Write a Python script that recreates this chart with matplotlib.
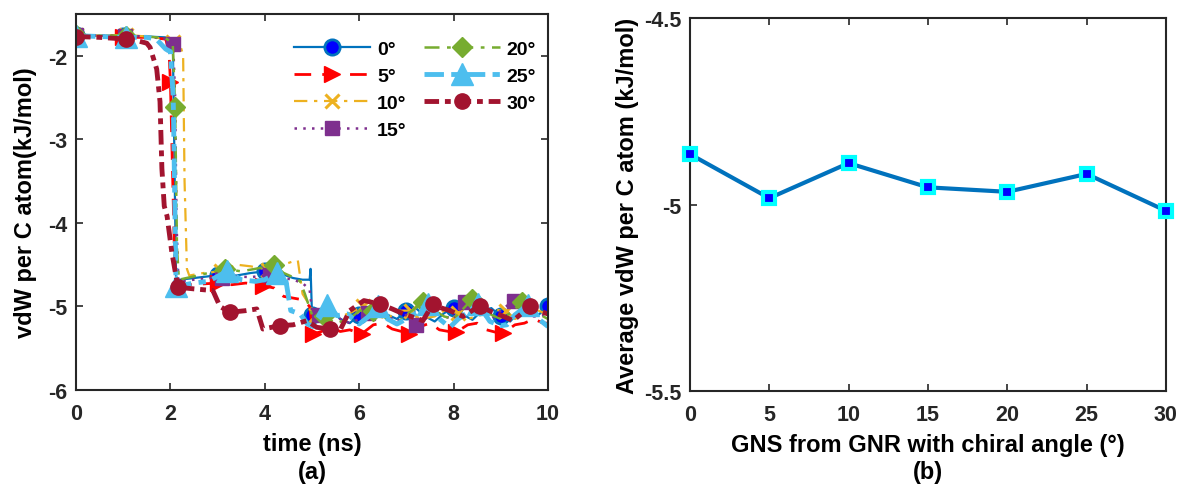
import matplotlib
matplotlib.use("Agg")
import matplotlib.pyplot as plt
import numpy as np

plt.rcParams['font.family'] = ['Liberation Sans', 'DejaVu Sans']
plt.rcParams['font.weight'] = 'bold'
plt.rcParams['axes.unicode_minus'] = False

# ---------------- data: panel (a) ----------------
t0 = [0, 0.5, 1.0, 1.5, 1.9, 2.0, 2.05, 2.08, 2.12, 2.2, 2.5, 2.8, 3.0, 3.4, 3.7, 4.0, 4.3, 4.6, 4.8, 4.95, 4.97,
      5.0, 5.2, 5.4, 5.6, 5.8, 6.0, 6.2, 6.4, 6.6, 6.8, 7.0, 7.2, 7.4, 7.6, 7.8, 8.0, 8.2, 8.4, 8.6, 8.8, 9.0,
      9.2, 9.4, 9.6, 9.8, 10.0]
v0 = [-1.75, -1.76, -1.76, -1.77, -1.78, -1.79, -1.80, -3.0, -4.68, -4.68, -4.66, -4.64, -4.62, -4.63, -4.60,
      -4.58, -4.60, -4.66, -4.68, -4.68, -4.55, -5.10, -5.12, -5.05, -5.15, -5.20, -5.10, -5.05, -5.00, -5.10,
      -5.15, -5.05, -5.02, -5.12, -5.18, -5.08, -5.02, -5.10, -5.16, -5.05, -5.02, -5.12, -5.18, -5.05, -5.02,
      -5.10, -5.00]
m0 = [0, 1.0, 3.0, 4.0, 5.0, 6.0, 7.0, 8.0, 9.0, 10.0]

t5 = [0, 0.5, 1.0, 1.5, 1.9, 1.97, 2.0, 2.05, 2.1, 2.15, 2.4, 2.7, 3.0, 3.3, 3.6, 3.96, 4.2, 4.4, 4.6, 4.8, 4.95,
      5.02, 5.2, 5.4, 5.6, 5.8, 6.05, 6.3, 6.5, 6.7, 6.9, 7.05, 7.3, 7.5, 7.7, 7.9, 8.05, 8.3, 8.5, 8.7, 8.9,
      9.05, 9.3, 9.5, 9.7, 9.9, 10.0]
v5 = [-1.76, -1.77, -1.78, -1.78, -1.80, -1.95, -2.31, -3.5, -4.70, -4.72, -4.74, -4.73, -4.72, -4.74, -4.72,
      -4.75, -4.78, -4.88, -4.90, -4.92, -5.00, -5.33, -5.30, -5.25, -5.30, -5.28, -5.33, -5.22, -5.20, -5.27,
      -5.30, -5.33, -5.24, -5.20, -5.28, -5.30, -5.31, -5.22, -5.20, -5.28, -5.31, -5.32, -5.22, -5.20, -5.15,
      -5.20, -5.20]
m5 = [0, 1.0, 2.0, 3.0, 3.96, 5.02, 6.05, 7.05, 8.05, 9.05]

t10 = [0, 0.5, 1.05, 1.5, 1.9, 2.06, 2.2, 2.27, 2.3, 2.35, 2.4, 2.7, 3.07, 3.4, 3.7, 4.07, 4.4, 4.6, 4.7, 4.75,
       4.8, 5.08, 5.3, 5.6, 5.8, 6.08, 6.3, 6.6, 6.8, 7.09, 7.3, 7.6, 7.8, 8.1, 8.3, 8.6, 8.8, 9.1, 9.3, 9.6,
       9.8, 10.0]
v10 = [-1.75, -1.76, -1.75, -1.77, -1.80, -1.83, -1.85, -2.0, -3.5, -4.55, -4.63, -4.60, -4.58, -4.50, -4.52,
       -4.56, -4.50, -4.46, -4.45, -4.65, -4.85, -5.10, -5.05, -5.12, -5.08, -5.00, -5.10, -5.15, -5.05, -5.05,
       -5.15, -5.12, -5.05, -5.08, -5.15, -5.10, -5.03, -5.06, -5.15, -5.08, -5.05, -5.10]
m10 = [0, 1.05, 2.06, 3.07, 4.07, 5.08, 6.08, 7.09, 8.1, 9.1]

t15 = [0, 0.5, 1.03, 1.5, 1.9, 2.06, 2.1, 2.13, 2.17, 2.5, 2.8, 3.09, 3.4, 3.7, 4.12, 4.4, 4.6, 4.8, 4.95, 5.0,
       5.15, 5.4, 5.6, 5.8, 6.0, 6.18, 6.4, 6.6, 6.8, 7.0, 7.21, 7.4, 7.6, 7.8, 8.0, 8.24, 8.4, 8.6, 8.8, 9.0,
       9.27, 9.5, 9.7, 10.0]
v15 = [-1.75, -1.76, -1.76, -1.77, -1.80, -1.86, -2.5, -4.0, -4.70, -4.68, -4.66, -4.66, -4.64, -4.65, -4.62,
       -4.66, -4.68, -4.72, -4.80, -5.05, -5.10, -5.05, -5.15, -5.20, -5.15, -5.08, -5.00, -5.12, -5.18, -5.10,
       -5.22, -5.15, -5.05, -5.12, -5.15, -4.95, -5.05, -5.10, -5.15, -5.05, -4.93, -5.05, -5.12, -5.10]
m15 = [0, 1.03, 2.06, 3.09, 4.12, 5.15, 6.18, 7.21, 8.24, 9.27]

t20 = [0, 0.5, 1.05, 1.5, 1.9, 2.05, 2.1, 2.14, 2.18, 2.5, 2.8, 3.15, 3.5, 3.8, 4.2, 4.4, 4.6, 4.75, 4.85, 5.0,
       5.25, 5.5, 5.8, 6.0, 6.3, 6.6, 6.8, 7.0, 7.35, 7.6, 7.8, 8.0, 8.4, 8.6, 8.8, 9.0, 9.2, 9.45, 9.7, 9.9,
       10.0]
v20 = [-1.75, -1.76, -1.76, -1.77, -1.79, -1.85, -2.61, -4.3, -4.68, -4.64, -4.60, -4.55, -4.58, -4.55, -4.50,
       -4.60, -4.65, -4.70, -4.85, -5.10, -5.12, -5.20, -5.15, -5.05, -5.05, -5.15, -5.20, -5.10, -4.95, -5.05,
       -5.12, -5.15, -4.91, -5.00, -5.10, -5.15, -5.08, -4.95, -5.05, -5.12, -5.15]
m20 = [0, 1.05, 2.1, 3.15, 4.2, 5.25, 6.3, 7.35, 8.4, 9.45]

t25 = [0, 0.5, 1.05, 1.5, 1.7, 1.9, 2.0, 2.06, 2.1, 2.12, 2.5, 2.8, 3.2, 3.5, 3.8, 4.0, 4.25, 4.45, 4.55, 4.75,
       4.9, 5.02, 5.15, 5.32, 5.53, 5.75, 6.0, 6.2, 6.4, 6.6, 6.8, 7.0, 7.2, 7.46, 7.7, 7.92, 8.1, 8.28, 8.52,
       8.77, 9.0, 9.13, 9.3, 9.58, 9.8, 10.0]
v25 = [-1.76, -1.77, -1.78, -1.78, -1.80, -1.92, -1.95, -2.5, -4.0, -4.76, -4.72, -4.70, -4.58, -4.68, -4.70,
       -4.68, -4.60, -4.70, -5.05, -5.09, -5.21, -5.24, -5.15, -4.98, -5.11, -5.09, -5.21, -5.12, -5.00, -5.15,
       -5.21, -5.15, -5.08, -4.97, -5.15, -5.25, -5.15, -5.08, -4.97, -5.18, -5.23, -5.22, -5.10, -4.98, -5.15,
       -5.24]
m25 = [0, 1.05, 2.12, 3.2, 4.25, 5.32, 6.4, 7.46, 8.52, 9.58]

t30 = [0, 0.5, 1.05, 1.3, 1.5, 1.57, 1.71, 1.78, 1.82, 1.87, 1.93, 2.03, 2.16, 2.5, 2.9, 3.05, 3.26, 3.6, 3.83,
       3.96, 4.32, 4.6, 4.89, 5.1, 5.38, 5.59, 5.8, 6.1, 6.44, 6.7, 6.86, 7.1, 7.35, 7.56, 7.75, 7.92, 8.2,
       8.56, 8.75, 8.98, 9.26, 9.62, 9.8, 10.0]
v30 = [-1.77, -1.78, -1.80, -1.82, -1.85, -1.90, -2.16, -2.55, -3.35, -3.80, -3.92, -4.35, -4.77, -4.79, -4.81,
       -5.00, -5.07, -5.05, -5.03, -5.27, -5.23, -5.22, -5.17, -5.25, -5.27, -5.29, -5.05, -4.93, -4.97, -5.03,
       -5.07, -5.12, -5.17, -4.97, -5.02, -5.05, -5.12, -4.99, -5.05, -5.10, -5.17, -5.00, -5.05, -5.09]
m30 = [0, 1.05, 2.16, 3.26, 4.32, 5.38, 6.44, 7.56, 8.56, 9.62]

labels_a = ['0°', '5°', '10°', '15°', '20°', '25°', '30°']

# ---------------- data: panel (b) ----------------
angles = [0, 5, 10, 15, 20, 25, 30]
avg_vdw = [-4.865, -4.983, -4.889, -4.954, -4.966, -4.918, -5.017]

# ---------------- styles ----------------
styles = [
    dict(color='#0072BD', ls='-', lw=1.6, marker='o', ms=11, mfc='#0000FF', mec='#0072BD', mew=2),
    dict(color='#FF0000', ls=(0, (6, 4)), lw=2.0, marker='>', ms=12, mfc='#FF0000', mec='#FF0000', mew=1),
    dict(color='#EDB120', ls=(0, (6, 3, 1.5, 3)), lw=1.6, marker='x', ms=10, mfc='#EDB120', mec='#EDB120', mew=2.2),
    dict(color='#7E2F8E', ls=(0, (1, 2.5)), lw=1.8, marker='s', ms=10, mfc='#7E2F8E', mec='#7E2F8E', mew=1),
    dict(color='#77AC30', ls=(0, (6, 3, 1.5, 3)), lw=1.8, marker='D', ms=10, mfc='#77AC30', mec='#77AC30', mew=1),
    dict(color='#4DBEEE', ls=(0, (4, 1.5, 1.5, 1.5)), lw=3.5, marker='^', ms=16, mfc='#4DBEEE', mec='#4DBEEE', mew=1),
    dict(color='#A2142F', ls=(0, (3, 1.2, 1.2, 1.2)), lw=3.5, marker='o', ms=11, mfc='#A2142F', mec='#A2142F', mew=1),
]

series = [(t0, v0, m0), (t5, v5, m5), (t10, v10, m10), (t15, v15, m15),
          (t20, v20, m20), (t25, v25, m25), (t30, v30, m30)]

fig = plt.figure(figsize=(11.8, 4.89), dpi=100)
ax1 = fig.add_axes([0.0644, 0.2004, 0.4, 0.769])
ax2 = fig.add_axes([0.5847, 0.1984, 0.4034, 0.7627])

for (t, v, mk), st, lab in zip(series, styles, labels_a):
    t = np.asarray(t)
    idx = sorted({int(np.argmin(np.abs(t - m))) for m in mk})
    ax1.plot(t, v, label=lab, markevery=idx, **st)

LABEL_FS = 17
TICK_FS = 15.5

ax1.set_xlim(0, 10)
ax1.set_ylim(-6, -1.5)
ax1.set_xticks([0, 2, 4, 6, 8, 10])
ax1.set_yticks([-6, -5, -4, -3, -2])
ax1.set_xlabel('time (ns)', fontsize=LABEL_FS, fontweight='bold', labelpad=5.5)
ax1.set_ylabel('vdW per C atom(kJ/mol)', fontsize=LABEL_FS, fontweight='bold', labelpad=8)

leg = ax1.legend(ncol=2, loc='upper right', bbox_to_anchor=(1.0, 0.96), frameon=False,
                 fontsize=14, handlelength=3.9, numpoints=1, labelspacing=0.47,
                 columnspacing=0.9, handletextpad=0.35, borderaxespad=0.2)
for txt in leg.get_texts():
    txt.set_fontweight('bold')

ax2.plot(angles, avg_vdw, color='#0072BD', lw=3, marker='s', ms=9,
         mfc='#0000FF', mec='#00FFFF', mew=3, clip_on=False, zorder=5)
ax2.set_xlim(0, 30)
ax2.set_ylim(-5.5, -4.5)
ax2.set_xticks([0, 5, 10, 15, 20, 25, 30])
ax2.set_yticks([-5.5, -5, -4.5])
ax2.set_yticklabels(['-5.5', '-5', '-4.5'])
ax2.set_xlabel('GNS from GNR with chiral angle (°)', fontsize=LABEL_FS, fontweight='bold', labelpad=5.5)
ax2.set_ylabel('Average vdW per C atom (kJ/mol)', fontsize=LABEL_FS, fontweight='bold', labelpad=4)

for ax in (ax1, ax2):
    ax.tick_params(direction='in', top=True, right=True, length=5, width=1.2,
                   labelsize=TICK_FS, pad=6, color='#262626', labelcolor='#262626')
    ax.tick_params(axis='x', pad=9.5)
    for lbl in ax.get_xticklabels() + ax.get_yticklabels():
        lbl.set_fontweight('bold')
    for sp in ax.spines.values():
        sp.set_linewidth(1.5)
        sp.set_color('#262626')

fig.text(0.2644, 0.034, '(a)', ha='center', va='center', fontsize=LABEL_FS, fontweight='bold')
fig.text(0.7864, 0.034, '(b)', ha='center', va='center', fontsize=LABEL_FS, fontweight='bold')

fig.savefig('out.png', dpi=100)
